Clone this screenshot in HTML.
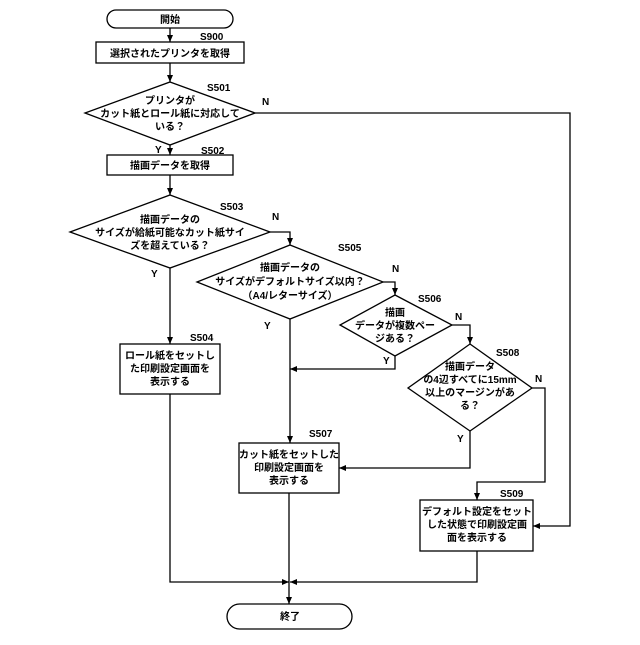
<!DOCTYPE html>
<html><head><meta charset="utf-8"><style>
html,body{margin:0;padding:0;background:#fff;}
svg text{font-family:"Liberation Sans","Noto Sans CJK JP",sans-serif;font-size:10px;font-weight:bold;fill:#000;}
</style></head><body>
<svg width="640" height="640" viewBox="0 0 640 640" xmlns="http://www.w3.org/2000/svg">
<defs><marker id="a" markerWidth="8" markerHeight="8" refX="7" refY="4" orient="auto" markerUnits="userSpaceOnUse"><path d="M0,1 L7,4 L0,7 z" fill="#000"/></marker></defs>
<g fill="none" stroke="#000" stroke-width="1.3">
<rect x="107" y="10" width="126" height="18" rx="9"/>
<rect x="96" y="42" width="148" height="21"/>
<polygon points="170,82 255,113 170,145 85,113"/>
<rect x="107" y="155" width="126" height="20"/>
<polygon points="170,195 270,232 170,268 70,232"/>
<polygon points="290,245 383,282 290,319 197,282"/>
<polygon points="395,295 452,325 395,356 340,325"/>
<polygon points="470,344 532,388 470,431 408,388"/>
<rect x="120" y="344" width="100" height="50"/>
<rect x="239" y="443" width="100" height="50"/>
<rect x="420" y="500" width="113" height="51"/>
<rect x="227" y="604" width="125" height="25" rx="12.5"/>
<path d="M170,28 V42" marker-end="url(#a)"/>
<path d="M170,63 V82" marker-end="url(#a)"/>
<path d="M170,145 V155" marker-end="url(#a)"/>
<path d="M170,175 V195" marker-end="url(#a)"/>
<path d="M170,268 V344" marker-end="url(#a)"/>
<path d="M255,113 H570 V526 H533" marker-end="url(#a)"/>
<path d="M270,232 H290 V245" marker-end="url(#a)"/>
<path d="M290,319 V443" marker-end="url(#a)"/>
<path d="M383,282 H395 V295" marker-end="url(#a)"/>
<path d="M395,356 V369 H290" marker-end="url(#a)"/>
<path d="M452,325 H470 V344" marker-end="url(#a)"/>
<path d="M532,388 H545 V482 H477 V500" marker-end="url(#a)"/>
<path d="M470,431 V468 H339" marker-end="url(#a)"/>
<path d="M170,394 V582 H289" marker-end="url(#a)"/>
<path d="M477,551 V582 H290" marker-end="url(#a)"/>
<path d="M289,493 V604" marker-end="url(#a)"/>
</g>
<g text-anchor="middle">
<text x="170" y="23">開始</text>
<text x="170" y="57">選択されたプリンタを取得</text>
<text x="170" y="104">プリンタが</text>
<text x="170" y="117">カット紙とロール紙に対応して</text>
<text x="170" y="130">いる？</text>
<text x="170" y="169">描画データを取得</text>
<text x="170" y="223">描画データの</text>
<text x="170" y="236">サイズが給紙可能なカット紙サイ</text>
<text x="170" y="249">ズを超えている？</text>
<text x="290" y="271">描画データの</text>
<text x="290" y="285">サイズがデフォルトサイズ以内？</text>
<text x="290" y="299">（A4/レターサイズ）</text>
<text x="395" y="316">描画</text>
<text x="395" y="329">データが複数ペー</text>
<text x="395" y="342">ジある？</text>
<text x="470" y="370">描画データ</text>
<text x="470" y="383">の4辺すべてに15mm</text>
<text x="470" y="396">以上のマージンがあ</text>
<text x="470" y="409">る？</text>
<text x="170" y="359">ロール紙をセットし</text>
<text x="170" y="372">た印刷設定画面を</text>
<text x="170" y="385">表示する</text>
<text x="289" y="458">カット紙をセットした</text>
<text x="289" y="471">印刷設定画面を</text>
<text x="289" y="484">表示する</text>
<text x="477" y="515">デフォルト設定をセット</text>
<text x="477" y="528">した状態で印刷設定画</text>
<text x="477" y="541">面を表示する</text>
<text x="290" y="620">終了</text>
</g>
<g>
<text x="200" y="40">S900</text>
<text x="207" y="91">S501</text>
<text x="201" y="154">S502</text>
<text x="220" y="210">S503</text>
<text x="338" y="251">S505</text>
<text x="418" y="302">S506</text>
<text x="496" y="356">S508</text>
<text x="190" y="341">S504</text>
<text x="309" y="437">S507</text>
<text x="500" y="497">S509</text>
<text x="262" y="105">N</text>
<text x="272" y="220">N</text>
<text x="392" y="272">N</text>
<text x="455" y="320">N</text>
<text x="535" y="382">N</text>
<text x="155" y="153">Y</text>
<text x="151" y="277">Y</text>
<text x="264" y="329">Y</text>
<text x="383" y="364">Y</text>
<text x="457" y="442">Y</text>
</g>
</svg>
</body></html>
